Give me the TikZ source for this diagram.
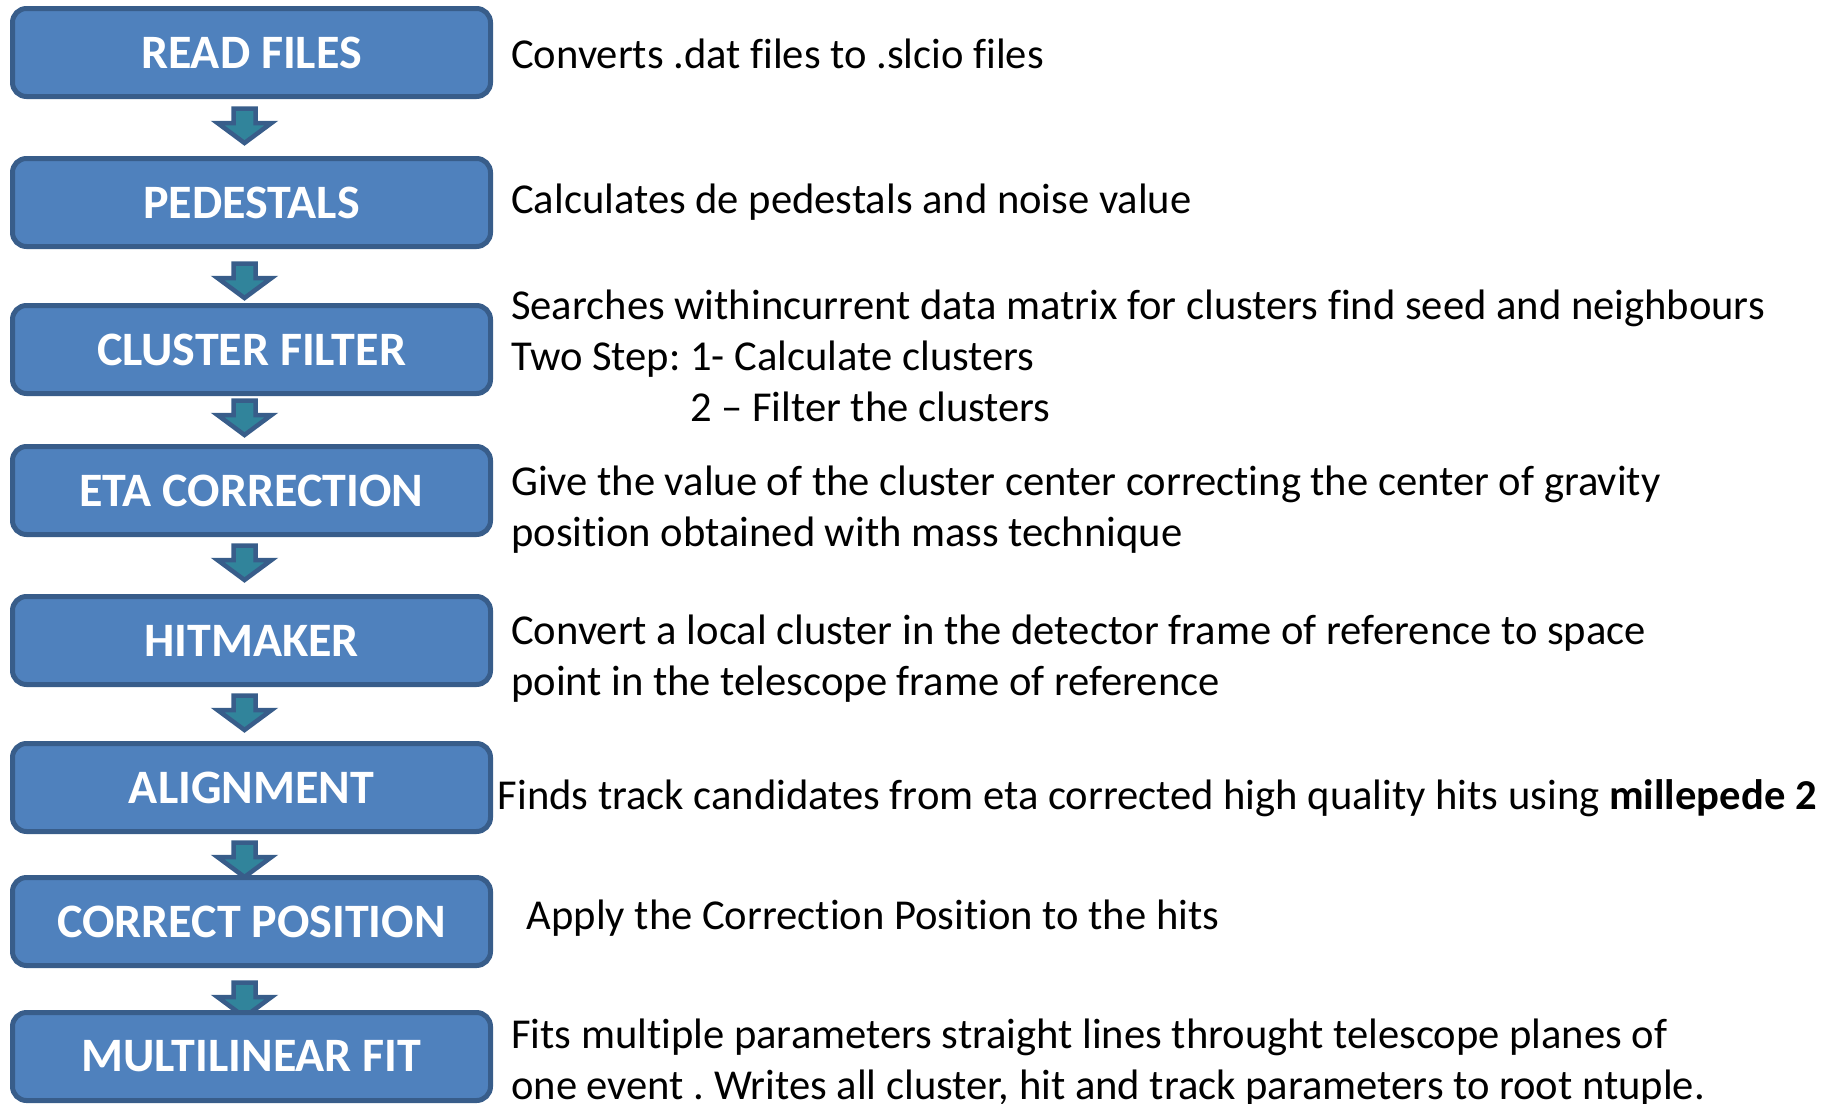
\documentclass[tikz,border=0pt]{standalone}
\usepackage{fontspec}
\setmainfont{Carlito}[Ligatures=CommonOff]
\usetikzlibrary{positioning,backgrounds}
\definecolor{boxblue}{HTML}{4F81BD}
\definecolor{boxedge}{HTML}{385D8A}
\definecolor{arrowteal}{HTML}{31849B}
\tikzset{
  blockarrow/.pic={
    \draw[draw=boxedge, fill=arrowteal, line width=4.5pt]
      (-11,-2.5) -- (-11,-17) -- (-27,-17) -- (0,-37) -- (27,-17) -- (11,-17) -- (11,-2.5) -- cycle;
  }
}
\frenchspacing

\begin{document}
\begin{tikzpicture}
  [x=1pt, y=1pt,
  stage/.style={rectangle, draw=boxedge, line width=5pt, fill=boxblue, rounded corners=14pt,
    minimum width=478pt, minimum height=88pt, text=white, font=\fontsize{48}{58}\selectfont\bfseries},
  desc/.style={inner sep=0pt, align=left, anchor=west, font=\fontsize{42.6}{51}\selectfont}]
  \useasboundingbox (0,0) rectangle (1823,-1103);

  % stages
  \node [stage] (readfiles) at (251.5,-52.5) {READ FILES};
  \node [stage, below=57pt of readfiles] (pedestals) {PEDESTALS};
  \node [stage, below=54pt of pedestals] (clusterfilter) {CLUSTER FILTER};
  \node [stage, below=48pt of clusterfilter] (etacorrection) {ETA CORRECTION};
  \node [stage, below=57pt of etacorrection] (hitmaker) {HITMAKER};
  \node [stage, below=54pt of hitmaker] (alignment) {ALIGNMENT};
  \node [stage, below=41pt of alignment] (correctposition) {CORRECT POSITION};
  \node [stage, below=42pt of correctposition] (multilinearfit) {MULTILINEAR FIT};

  % descriptions
  \node [desc, right=18pt of readfiles, yshift=-1pt] (readdesc) {Converts .dat files to .slcio files};
  \node [desc, right=18pt of pedestals, yshift=0.5pt] (pedestalsdesc) {Calculates de pedestals and noise value};
  \node [desc, right=18pt of clusterfilter, yshift=-10pt] (clusterdesc)
    {Searches withincurrent data matrix for clusters find seed and neighbours\\
     Two Step: 1- Calculate clusters\\
     \phantom{Two Step: }2 – Filter the clusters};
  \node [desc, right=18pt of etacorrection, yshift=-19pt] (etadesc)
    {Give the value of the cluster center correcting the center of gravity\\
     position obtained with mass technique};
  \node [desc, right=18pt of hitmaker, yshift=-18pt] (hitdesc)
    {Convert a local cluster in the detector frame of reference to space\\
     point in the telescope frame of reference};
  \node [desc, right=4.5pt of alignment, yshift=-10.5pt] (aligndesc)
    {Finds track candidates from eta corrected high quality hits using \textbf{millepede 2}};
  \node [desc, right=33.5pt of correctposition, yshift=3.5pt] (correctdesc)
    {Apply the Correction Position to the hits};
  \node [desc, right=18pt of multilinearfit, yshift=-6pt] (fitdesc)
    {Fits multiple parameters straight lines throught telescope planes of\\
     one event . Writes all cluster, hit and track parameters to root ntuple.};

  % arrows between stages
  \begin{pgfonlayer}{background}
    \path ([xshift=-7pt,yshift=-7pt]readfiles.south) pic {blockarrow};
    \path ([xshift=-7pt,yshift=-12pt]pedestals.south) pic {blockarrow};
    \path ([xshift=-7pt,yshift=-2pt]clusterfilter.south) pic {blockarrow};
    \path ([xshift=-7pt,yshift=-6pt]etacorrection.south) pic {blockarrow};
    \path ([xshift=-7pt,yshift=-6pt]hitmaker.south) pic {blockarrow};
    \path ([xshift=-7pt,yshift=-6pt]alignment.south) pic {blockarrow};
    \path ([xshift=-7pt,yshift=-12pt]correctposition.south) pic {blockarrow};
  \end{pgfonlayer}
\end{tikzpicture}
\end{document}
